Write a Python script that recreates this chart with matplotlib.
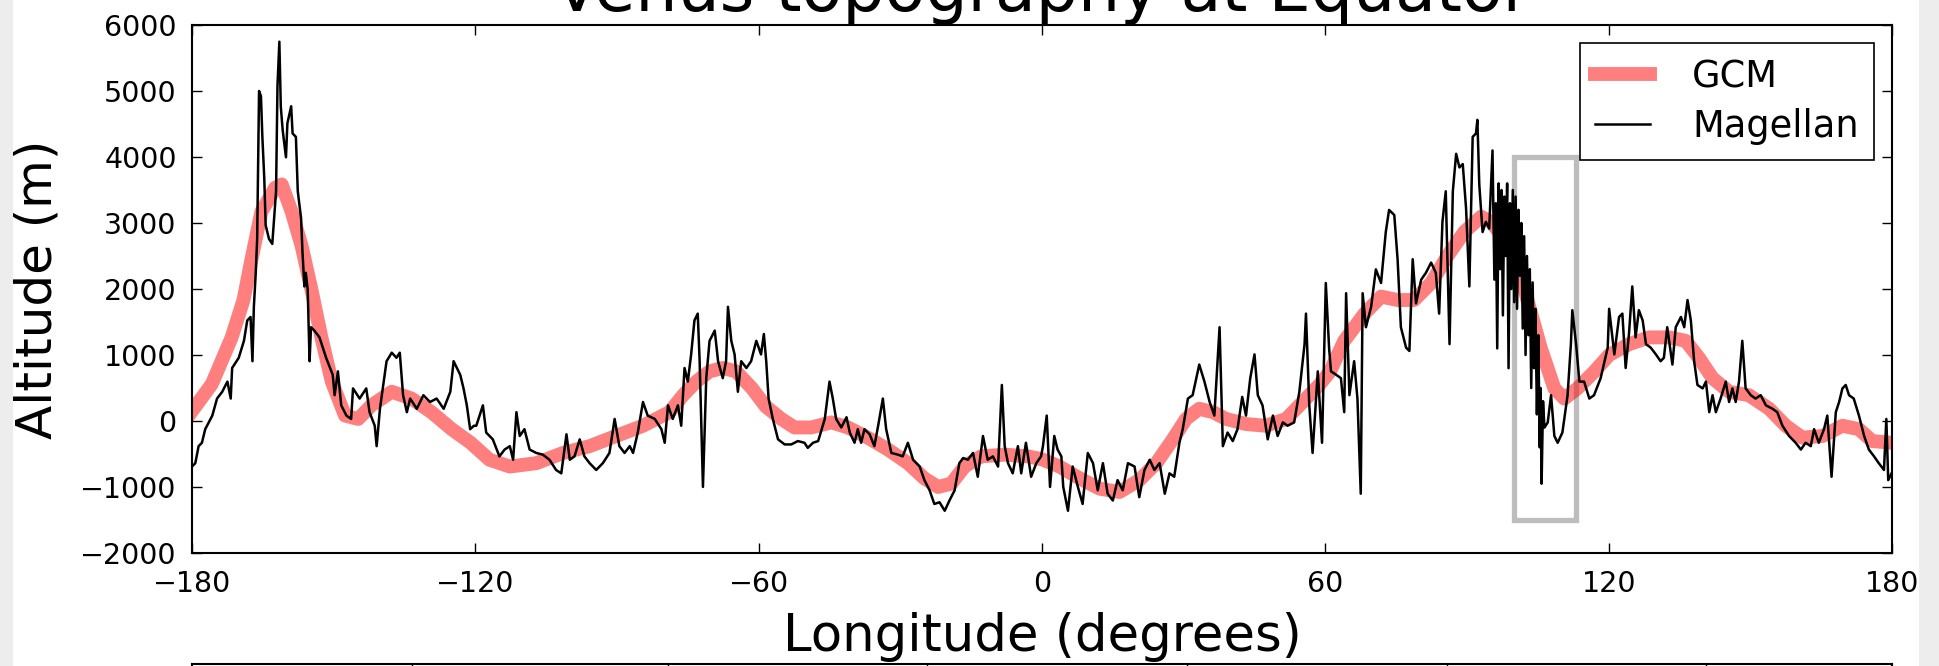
import numpy as np
import matplotlib
matplotlib.use("Agg")
import matplotlib.pyplot as plt
from matplotlib.patches import Rectangle

# GCM surface (smooth model topography)
gcm_lon = [-180, -175.8, -171.6, -169.1, -167.4, -165.3, -162.4, -161.0, -158.9, -156.8,
           -154.7, -152.6, -150.4, -147.6, -144.8, -142.0, -137.7, -133.5, -129.3, -125.0,
           -121.0, -117.0, -112.7, -107.1, -101.4, -95.8, -90.2, -84.5, -78.9, -76.0,
           -73.2, -70.4, -67.6, -64.8, -61.4, -58.5, -55.2, -52.4, -48.9, -44.6,
           -41.1, -36.9, -32.6, -28.4, -24.9, -22.0, -19.2, -16.4, -12.9, -7.9,
           -3.0, 0.0, 3.7, 8.0, 12.2, 16.4, 20.6, 24.2, 27.7, 30.5,
           33.3, 36.2, 39.0, 43.2, 47.4, 51.7, 55.2, 58.7, 61.0, 64.0,
           68.3, 71.8, 75.3, 78.8, 82.4, 85.9, 89.4, 93.0, 95.1, 97.9,
           100.4, 102.8, 105.6, 108.5, 110.6, 113.4, 117.0, 120.1, 124.3, 128.6,
           132.8, 136.3, 139.1, 142.0, 145.5, 149.7, 154.0, 157.5, 161.0, 165.3,
           169.5, 173.0, 175.8, 180]
gcm_alt = [150, 560, 1267, 1833, 2451, 3172, 3533, 3584, 3172, 2657,
           1988, 1267, 597, 82, 31, 237, 443, 340, 134, -124,
           -330, -587, -690, -639, -484, -381, -227, -72, 134, 391,
           597, 752, 803, 752, 494, 220, 31, -98, -98, -21,
           -98, -252, -433, -639, -870, -999, -948, -690, -536, -510,
           -536, -580, -690, -870, -1025, -1076, -896, -639, -278, 31,
           185, 134, 31, -46, -72, 31, 288, 546, 750, 1215,
           1627, 1885, 1833, 1833, 2091, 2503, 2863, 3095, 3018, 2760,
           2451, 1833, 1112, 494, 340, 494, 752, 1000, 1164, 1267,
           1267, 1215, 958, 649, 443, 391, 185, -72, -252, -227,
           -72, -124, -304, -330]

# Magellan altimetry along the equator
mag_lon = [-180.0, -179.3, -178.6, -177.9, -177.2, -175.7, -174.7, -173.6, -172.5, -171.8,
           -171.5, -170.1, -169.0, -168.3, -167.6, -167.2, -166.9, -166.5, -166.2, -165.8,
           -165.4, -165.1, -164.7, -164.4, -163.7, -163.0, -162.2, -161.9, -161.5, -161.2,
           -160.8, -160.1, -159.8, -159.0, -158.7, -158.0, -157.6, -156.9, -156.6, -156.2,
           -155.9, -155.5, -155.1, -154.8, -154.1, -153.0, -151.6, -150.2, -149.8, -149.1,
           -148.4, -147.3, -146.3, -145.9, -144.5, -143.1, -142.4, -141.3, -140.9, -140.2,
           -138.8, -137.7, -136.7, -136.0, -135.3, -134.5, -133.8, -132.4, -131.0, -129.6,
           -128.2, -126.7, -125.3, -124.6, -123.9, -123.2, -122.5, -121.8, -121.1, -120.3,
           -119.8, -118.4, -117.7, -116.3, -114.9, -113.8, -112.7, -112.0, -111.3, -110.6,
           -109.6, -108.5, -107.1, -105.7, -104.3, -102.9, -101.8, -100.7, -100.0, -99.0,
           -97.9, -96.9, -95.8, -94.4, -93.0, -91.6, -90.5, -89.5, -88.4, -87.3,
           -86.6, -85.6, -84.5, -83.5, -82.0, -80.6, -79.9, -79.2, -78.2, -77.1,
           -76.4, -75.7, -75.0, -74.3, -73.6, -72.9, -72.5, -71.8, -71.1, -70.4,
           -69.3, -68.6, -67.6, -66.9, -66.5, -65.8, -65.1, -64.4, -63.7, -62.6,
           -61.6, -60.5, -59.5, -58.9, -58.4, -57.9, -57.0, -55.9, -54.5, -53.1,
           -51.7, -50.3, -49.6, -48.5, -47.4, -46.0, -45.0, -44.3, -43.6, -42.5,
           -41.4, -40.7, -39.7, -39.0, -38.3, -37.6, -36.5, -35.5, -34.7, -33.7,
           -33.0, -31.9, -30.5, -29.5, -28.4, -27.3, -25.9, -24.9, -23.8, -22.8,
           -21.7, -20.6, -19.6, -18.5, -17.5, -16.7, -15.7, -14.6, -13.6, -12.5,
           -11.5, -10.4, -9.3, -8.5, -7.9, -7.2, -6.2, -5.1, -4.4, -3.4,
           -2.3, -1.2, -0.2, 0.2, 1.0, 1.7, 2.6, 3.3, 4.1, 4.5,
           5.5, 6.5, 7.6, 8.6, 9.7, 10.8, 11.8, 12.9, 13.9, 15.0,
           16.0, 17.1, 18.2, 19.6, 20.6, 21.7, 22.8, 23.8, 24.9, 26.0,
           27.0, 28.0, 29.1, 29.8, 30.9, 31.9, 33.3, 34.4, 35.5, 36.5,
           37.6, 38.3, 39.3, 40.4, 41.4, 42.4, 43.2, 44.1, 45.0, 45.7,
           46.7, 47.8, 48.9, 49.9, 51.0, 52.0, 53.4, 54.5, 55.6, 55.9,
           56.6, 57.3, 58.4, 59.3, 60.1, 60.8, 61.2, 62.3, 63.3, 64.0,
           64.4, 65.1, 66.1, 66.8, 67.5, 67.9, 68.6, 69.7, 70.7, 71.8,
           72.8, 73.5, 74.6, 75.3, 76.0, 77.1, 77.8, 78.5, 79.2, 80.3,
           81.3, 82.4, 83.4, 84.1, 84.8, 85.5, 86.3, 87.0, 87.7, 88.4,
           89.1, 89.8, 90.5, 91.2, 91.9, 92.2, 92.6, 93.3, 94.0, 94.7,
           95.4, 95.8, 96.1, 96.4, 96.7, 97.0, 97.3, 97.6, 97.9, 98.2,
           98.5, 98.8, 99.1, 99.4, 99.7, 100.0, 100.3, 100.6, 100.9, 101.2,
           101.5, 101.8, 102.1, 102.4, 102.7, 103.0, 103.3, 103.6, 103.9, 104.2,
           104.5, 104.8, 105.1, 105.4, 105.6, 105.8, 106.1, 106.4, 107.1, 107.8,
           108.5, 109.2, 110.2, 111.3, 112.0, 112.3, 113.1, 113.8, 114.8, 115.9,
           116.9, 118.3, 119.8, 120.1, 121.2, 122.2, 122.9, 123.6, 124.3, 125.0,
           125.7, 126.4, 127.2, 127.9, 128.9, 130.0, 131.0, 131.7, 132.4, 133.5,
           134.2, 135.3, 136.0, 136.7, 137.4, 138.1, 138.8, 139.9, 140.6, 141.3,
           142.0, 142.7, 143.7, 144.8, 145.5, 146.2, 146.9, 147.6, 148.3, 149.0,
           150.1, 151.1, 152.2, 153.3, 154.7, 155.7, 156.8, 158.2, 159.6, 160.7,
           161.7, 162.8, 163.5, 164.5, 165.6, 166.3, 167.2, 168.1, 168.8, 169.5,
           170.2, 170.9, 171.9, 173.0, 174.1, 175.1, 176.2, 177.2, 178.3, 178.8,
           179.2, 179.9]
mag_alt = [-690, -639, -381, -330, -124, 82, 340, 443, 597, 340,
           803, 958, 1215, 1524, 1576, 906, 1730, 2245, 2760, 5000,
           4923, 4305, 3687, 2966, 2760, 2683, 3481, 5078, 5747, 4769,
           4408, 3996, 4511, 4769, 4357, 4305, 3481, 3069, 2554, 2039,
           2245, 1988, 906, 1421, 1370, 1267, 958, 700, 391, 752,
           237, 82, 31, 494, 340, 494, 134, -72, -381, 185,
           906, 1035, 958, 1035, 391, 134, 340, 185, 391, 288,
           340, 185, 443, 906, 803, 700, 494, 237, -124, -72,
           -72, 237, -175, -278, -536, -433, -381, -587, 134, -227,
           -124, -433, -484, -510, -587, -742, -793, -201, -587, -536,
           -278, -536, -639, -742, -639, -484, 31, -381, -484, -381,
           -484, -175, 288, 82, 31, -124, -330, 237, 31, 237,
           -72, 803, 597, 1009, 1524, 1627, 906, -999, 649, 1215,
           1370, 906, 649, 906, 1730, 1215, 1009, 443, 906, 803,
           906, 1215, 1009, 1318, 906, 340, 31, -278, -355, -355,
           -304, -330, -407, -330, -304, 31, 597, 340, 31, -98,
           57, -175, -330, -124, -330, -124, -201, -381, -72, 340,
           -124, -484, -510, -536, -330, -587, -690, -896, -1050, -1257,
           -1231, -1360, -1205, -1050, -639, -561, -587, -484, -845, -227,
           -587, -536, -690, 546, -381, -639, -793, -381, -793, -330,
           -845, -639, -536, -381, 82, -999, -227, -433, -536, -999,
           -1360, -690, -999, -1257, -484, -639, -1050, -639, -1102, -1205,
           -896, -1050, -639, -690, -1154, -742, -587, -742, -639, -1102,
           -793, -845, -330, -124, 340, 391, 855, 597, 288, 82,
           1421, -381, -175, -304, -124, 365, 82, 649, 1009, 391,
           237, -278, 82, -227, -21, -72, -21, 443, 1164, 1627,
           237, -484, 752, -330, 2091, 1100, 752, 700, 649, 134,
           1936, 391, 906, 340, -1102, 1936, 1421, 1730, 2297, 2091,
           2863, 3198, 3121, 2451, 1421, 1112, 1061, 2451, 1782, 2142,
           2245, 2400, 2245, 1627, 3018, 3481, 1164, 3481, 4048, 3842,
           3893, 3224, 2039, 4305, 4357, 4563, 3584, 2863, 3018, 2915,
           4099, 2142, 3300, 1100, 3600, 2300, 3500, 1600, 3400, 2500,
           3600, 800, 3300, 2000, 3500, 1800, 3400, 1700, 3200, 2200,
           3000, 1400, 2800, 1000, 2500, 1300, 2300, 500, 2100, 800,
           1700, 100, 1300, -400, 500, -950, 300, -100, -21, 391,
           -227, -330, -175, 391, 1164, 1679, 1164, 597, 597, 340,
           391, 649, 1112, 1700, 1009, 1576, 1627, 803, 1318, 2039,
           1267, 1679, 1524, 1164, 1112, 1009, 906, 958, 1421, 855,
           1421, 1576, 1421, 1833, 1524, 906, 546, 494, 597, 134,
           391, 134, 340, 597, 288, 494, 288, 597, 1215, 494,
           391, 340, 391, 237, 185, 134, -72, -227, -330, -433,
           -330, -381, -124, -330, -124, 82, -845, 134, 288, 494,
           546, 391, 340, 82, -227, -433, -536, -639, -742, 31,
           -896, -793]

# highlighted box (lon range, altitude range)
box_lon = [100, 113]
box_alt = [-1500, 4000]

xticks = np.arange(-180, 181, 60)
yticks = np.arange(-2000, 6001, 1000)

W, H = 1939, 666
fig = plt.figure(figsize=(W / 100, H / 100), dpi=100)
fig.patch.set_facecolor('white')

# grey screenshot margins on left and right
fig.patches.append(Rectangle((0, 0), 13 / W, 1, transform=fig.transFigure,
                             facecolor='#ededed', edgecolor='none', zorder=0))
fig.patches.append(Rectangle((1919 / W, 0), 20 / W, 1, transform=fig.transFigure,
                             facecolor='#ededed', edgecolor='none', zorder=0))

ax = fig.add_axes([192 / W, 1 - 553 / H, 1700 / W, 528 / H])

ax.plot(gcm_lon, gcm_alt, color='r', alpha=0.5, lw=10, label='GCM')
ax.plot(mag_lon, mag_alt, color='k', lw=1.8, label='Magellan')
ax.add_patch(Rectangle((box_lon[0], box_alt[0]), box_lon[1] - box_lon[0],
                       box_alt[1] - box_alt[0], fill=False,
                       edgecolor='#bdbdbd', lw=3.8, zorder=1.5))

ax.set_xlim(-180, 180)
ax.set_ylim(-2000, 6000)
ax.set_xticks(xticks)
ax.set_yticks(yticks)
ax.tick_params(direction='in', top=True, right=True, length=7, width=1,
               labelsize=20.5)
ax.tick_params(axis='x', pad=12)
ax.tick_params(axis='y', pad=11)
for s in ax.spines.values():
    s.set_linewidth(1.5)

ax.set_xlabel('Longitude (degrees)', fontsize=37, va='top')
ax.xaxis.set_label_coords(0.5, -0.112)
ax.set_ylabel('Altitude (m)', fontsize=36)
ax.yaxis.set_label_coords(-0.0765, 0.5)

leg = ax.legend(loc='upper right', fontsize=26.5, fancybox=False, edgecolor='black',
                framealpha=1, borderpad=0.4, labelspacing=0.35,
                handlelength=1.5, handletextpad=1.15)
leg.get_frame().set_linewidth(1.2)

# title sits mostly above the crop
fig.text((192 + 850) / W, 1 - 11 / H, 'Venus topography at Equator',
         ha='center', va='baseline', fontsize=48)

# top of the next panel peeking in at the bottom
ax2 = fig.add_axes([192 / W, -0.3, 1700 / W, 0.3 + 2 / H])
ax2.set_xlim(0, 1)
ax2.set_xticks([0.1294, 0.28, 0.4324, 0.5853, 0.738, 0.8906])
ax2.set_yticks([])
ax2.tick_params(direction='in', top=True, bottom=False, labelbottom=False,
                length=7, width=1)
for s in ax2.spines.values():
    s.set_linewidth(1.5)

fig.savefig('out.png', dpi=100, facecolor=fig.get_facecolor())
